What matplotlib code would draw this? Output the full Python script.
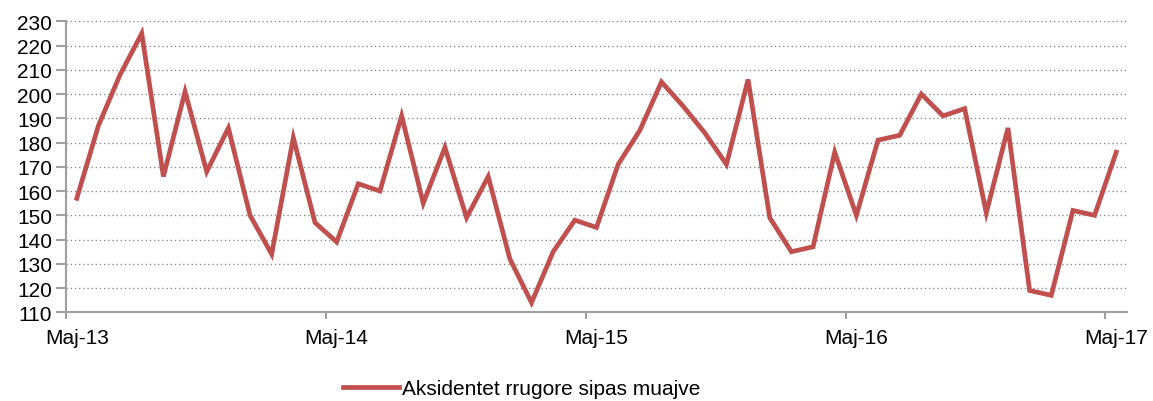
import matplotlib
matplotlib.use("Agg")
import matplotlib.pyplot as plt

# monthly road accidents, Maj-13 .. Maj-17
years = [13, 14, 15, 16, 17]
accidents = [157, 187, 208, 225, 166, 201, 168, 186, 150, 134, 182, 147,
             139, 163, 160, 191, 155, 178, 149, 166, 132, 114, 135, 148,
             145, 171, 185, 205, 195, 184, 171, 206, 149, 135, 137, 176,
             150, 181, 183, 200, 191, 194, 151, 186, 119, 117, 152, 150,
             176]
series_name = "Aksidentet rrugore sipas muajve"
show_labels = ["Maj-%d" % y for y in years]

plt.rcParams['font.family'] = ['Liberation Sans', 'DejaVu Sans']

fig = plt.figure(figsize=(11.53, 4.02), dpi=100)
ax = fig.add_axes([0.0572, 0.2206, 0.9203, 0.7239])

x = list(range(len(accidents)))
ax.plot(x, accidents, color='#C0504D', lw=3.4, solid_joinstyle='miter', label=series_name)

ax.set_xlim(-0.5, len(accidents) - 0.5)
ax.set_ylim(110, 230)
ax.set_yticks(range(110, 231, 10))
ax.yaxis.grid(True, linestyle=(0, (1, 2)), color='#8c8c8c', linewidth=1)
ax.set_axisbelow(True)

# tick marks between categories, labels on categories
ax.set_xticks([p - 0.5 for p in range(0, len(accidents), 12)])
ax.set_xticklabels([])
ax.set_xticks(list(range(0, len(accidents), 12)), minor=True)
ax.set_xticklabels(show_labels, minor=True)
ax.tick_params(axis='x', which='major', length=5, color='#a0a0a0', width=1.5)
ax.tick_params(axis='x', which='minor', length=0, pad=11, labelsize=15)
ax.tick_params(axis='y', length=7, color='#a0a0a0', width=1.5, labelsize=15, pad=3)

for s in ['top', 'right']:
    ax.spines[s].set_visible(False)
for s in ['left', 'bottom']:
    ax.spines[s].set_color('#a0a0a0')
    ax.spines[s].set_linewidth(1.5)

fig.legend(loc='center', bbox_to_anchor=(0.4527, 0.03), frameon=False,
           fontsize=15, handlelength=2.7, handletextpad=0.15)

fig.savefig("out.png", dpi=100)
